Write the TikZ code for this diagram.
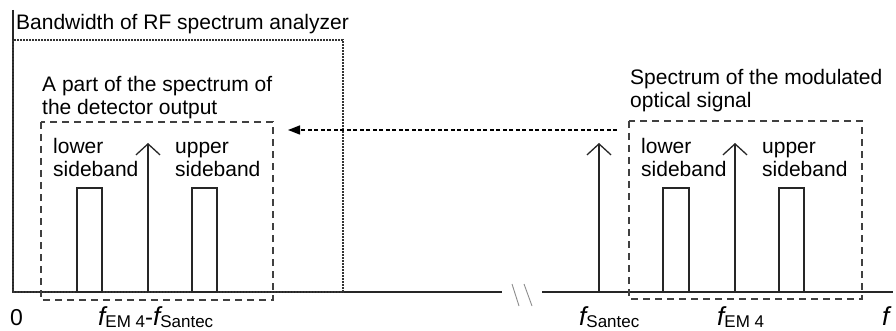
\documentclass[tikz,border=0pt]{standalone}
\usepackage{fontspec}
\setmainfont{Liberation Sans}
\usetikzlibrary{arrows.meta}

\newcommand{\freq}[1]{{\fontsize{26}{26}\selectfont\itshape f}\raisebox{-2pt}{\fontsize{17}{17}\selectfont #1}}

\begin{document}
\begin{tikzpicture}[x=1pt,y=-1pt,
  lbl/.style={anchor=base west,inner sep=0pt,font=\fontsize{21}{23}\selectfont,align=left},
  axis/.style={line width=1.6pt,draw=black!85},
  bwbox/.style={line width=1.3pt,dash pattern=on 1.6pt off 1.4pt,draw=black!80},
  sbbox/.style={line width=1.3pt,dash pattern=on 7pt off 5pt,draw=black!75},
  band/.style={line width=1.5pt,draw=black!85},
  carrier/.style={line width=1.4pt,draw=black!85,-{Straight Barb[length=11pt,width=24pt,line width=1.3pt]}},
  downconv/.style={line width=1.4pt,dash pattern=on 4pt off 2.5pt,-{Triangle[length=12pt,width=9pt]}}]

\useasboundingbox (0,0) rectangle (896,331);

% axes
\draw[axis] (13,10) -- (13,292);
\draw[axis] (13,292) -- (502,292);
\draw[axis] (542,292) -- (893,292);
\draw[line width=0.9pt,draw=black!45] (512,284) -- (519,306);
\draw[line width=0.9pt,draw=black!45] (524,284) -- (532,306);

% bandwidth of the analyzer
\draw[bwbox] (13,40) rectangle (343,292);
\node[lbl] (bwlabel) at (16,30) {Bandwidth of RF spectrum analyzer};

% detector output
\draw[sbbox] (41,122) rectangle (273,300);
\node[lbl] (detlabel) at (42,115) {A part of the spectrum of\\the detector output};
\draw[band] (77,188) rectangle (102,292);
\draw[band] (192,188) rectangle (217,292);
\draw[carrier] (148,292) -- (148,143);
\node[lbl] (lsbL) at (53,177) {lower\\sideband};
\node[lbl] (usbL) at (175,177) {upper\\sideband};

% modulated optical signal
\draw[sbbox] (629,121) rectangle (862,299);
\node[lbl] (optlabel) at (630,108) {Spectrum of the modulated\\optical signal};
\draw[band] (663,188) rectangle (689,292);
\draw[band] (779,188) rectangle (804,292);
\draw[carrier] (599,292) -- (599,143);
\draw[carrier] (735,292) -- (735,143);
\node[lbl] (lsbR) at (641,177) {lower\\sideband};
\node[lbl] (usbR) at (762,177) {upper\\sideband};

% down-conversion
\coordinate (optarrow) at (617,130);
\coordinate (detarrow) at (288,130);
\draw[downconv] (optarrow) -- (detarrow);

% frequency labels
\node[anchor=base west,inner sep=0pt,font=\fontsize{23}{23}\selectfont] (zero) at (10,325) {0};
\node[anchor=base west,inner sep=0pt] (fdiff) at (98,325) {\freq{EM 4}{\fontsize{24}{24}\selectfont -}\freq{Santec}};
\node[anchor=base west,inner sep=0pt] (fsantec) at (579,325) {\freq{Santec}};
\node[anchor=base west,inner sep=0pt] (fem) at (717,325) {\freq{EM 4}};
\node[anchor=base west,inner sep=0pt] (faxis) at (882,325) {\freq{}};

\end{tikzpicture}
\end{document}
